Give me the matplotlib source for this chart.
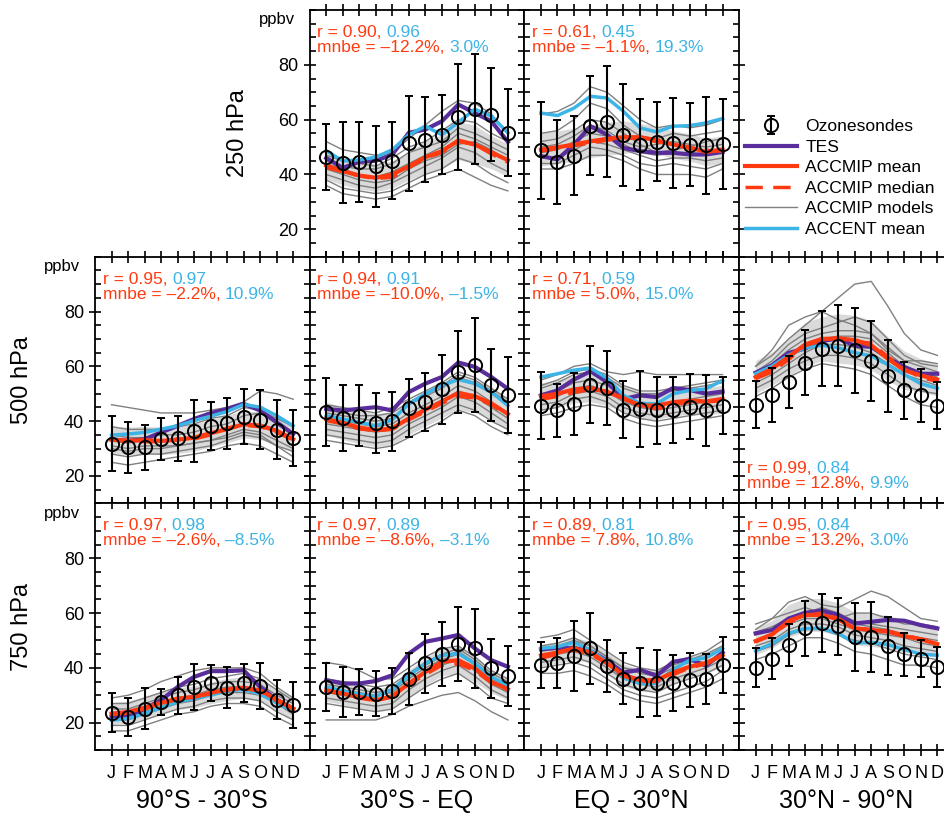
import matplotlib
matplotlib.use("Agg")
import matplotlib.pyplot as plt
import numpy as np
from matplotlib.offsetbox import TextArea, HPacker, VPacker, AnchoredOffsetbox
from matplotlib.lines import Line2D
from matplotlib.ticker import MultipleLocator

plt.rcParams['font.family'] = ['Liberation Sans', 'DejaVu Sans']

months = np.arange(1, 13)
month_labels = ['J', 'F', 'M', 'A', 'M', 'J', 'J', 'A', 'S', 'O', 'N', 'D']
col_titles = ['90°S - 30°S', '30°S - EQ', 'EQ - 30°N', '30°N - 90°N']
row_titles = ['250 hPa', '500 hPa', '750 hPa']

# (row, col) of each panel drawn
panels = [(0, 1), (0, 2), (1, 0), (1, 1), (1, 2), (1, 3), (2, 0), (2, 1), (2, 2), (2, 3)]

sondes = {
    (0, 1): [46.3, 44.3, 44.6, 43.0, 45.0, 51.3, 52.7, 54.5, 61.0, 63.9, 61.8, 55.2],
    (0, 2): [48.8, 44.6, 46.9, 57.8, 59.2, 54.5, 50.9, 51.9, 51.5, 50.9, 50.6, 51.2],
    (1, 0): [31.8, 30.4, 30.4, 33.4, 33.7, 36.5, 38.3, 39.3, 41.6, 40.5, 36.9, 34.0],
    (1, 1): [43.2, 41.2, 42.0, 39.2, 39.9, 44.8, 46.9, 51.6, 57.9, 60.4, 53.3, 49.6],
    (1, 2): [45.7, 43.9, 46.3, 53.3, 52.1, 44.2, 44.5, 43.9, 44.2, 45.3, 43.9, 45.7],
    (1, 3): [46.0, 49.6, 54.3, 61.4, 66.5, 67.5, 65.9, 62.0, 56.5, 51.2, 49.4, 45.7],
    (2, 0): [23.7, 22.1, 25.1, 27.6, 30.0, 33.0, 34.5, 32.8, 34.5, 33.5, 28.4, 26.3],
    (2, 1): [33.0, 31.2, 31.2, 30.6, 31.6, 35.9, 41.6, 45.0, 48.7, 47.1, 39.8, 37.1],
    (2, 2): [41.2, 41.8, 44.3, 47.1, 40.7, 36.1, 34.5, 34.5, 34.5, 35.5, 35.9, 41.0],
    (2, 3): [40.1, 43.4, 48.3, 54.4, 56.5, 55.2, 51.1, 51.3, 48.0, 44.9, 43.4, 40.4],
}
sondes_sd = {
    (0, 1): [12.1, 14.7, 14.5, 14.8, 14.1, 17.5, 15.5, 14.4, 19.2, 20.2, 17.0, 15.9],
    (0, 2): [17.7, 15.3, 14.5, 18.0, 20.3, 18.6, 16.7, 14.4, 16.5, 15.2, 17.8, 16.4],
    (1, 0): [10.1, 9.3, 8.1, 7.7, 8.3, 11.3, 8.7, 9.3, 10.0, 10.7, 10.7, 10.2],
    (1, 1): [12.4, 12.1, 11.2, 10.9, 10.9, 10.7, 10.6, 12.6, 14.9, 17.2, 13.2, 13.9],
    (1, 2): [12.1, 9.8, 11.3, 14.1, 13.5, 10.4, 13.8, 12.1, 12.0, 11.9, 12.9, 10.3],
    (1, 3): [8.6, 9.8, 9.6, 11.8, 13.6, 14.8, 15.5, 14.6, 13.2, 10.4, 9.7, 8.5],
    (2, 0): [7.0, 6.9, 7.5, 4.7, 6.8, 8.5, 6.6, 7.5, 7.0, 8.4, 7.0, 8.4],
    (2, 1): [8.8, 9.1, 8.5, 8.2, 8.5, 9.4, 10.9, 11.6, 13.4, 14.3, 10.8, 10.9],
    (2, 2): [8.4, 9.0, 12.8, 12.9, 9.5, 9.4, 12.6, 11.9, 10.2, 9.9, 9.1, 10.1],
    (2, 3): [7.0, 7.6, 7.7, 10.1, 10.6, 10.4, 12.4, 12.9, 10.7, 7.7, 6.7, 7.3],
}
tes = {
    (0, 1): [46.0, 42.4, 44.6, 45.0, 47.3, 55.2, 56.4, 59.4, 65.5, 62.4, 59.4, 51.9],
    (0, 2): [46.7, 45.5, 50.9, 57.6, 54.5, 49.7, 48.5, 47.9, 47.9, 47.3, 47.3, 48.2],
    (1, 0): [33.4, 32.8, 33.4, 35.9, 38.3, 40.8, 42.9, 44.5, 46.3, 43.9, 39.6, 35.3],
    (1, 1): [44.5, 43.9, 44.5, 45.1, 43.9, 50.6, 53.7, 56.1, 61.4, 59.8, 56.1, 51.8],
    (1, 2): [49.4, 51.2, 55.2, 58.2, 54.3, 48.1, 49.4, 48.8, 52.1, 51.4, 50.0, 50.8],
    (1, 3): [57.7, 60.4, 64.9, 66.5, 69.2, 70.2, 67.5, 67.1, 63.1, 59.8, 57.3, 57.3],
    (2, 0): [22.1, 22.1, 25.1, 28.2, 33.0, 36.7, 38.8, 38.8, 39.1, 33.0, 28.4, 25.1],
    (2, 1): [35.5, 34.3, 34.3, 35.2, 37.3, 45.2, 49.5, 50.7, 52.0, 47.1, 42.8, 40.4],
    (2, 2): [46.8, 47.3, 47.1, 46.3, 42.6, 38.3, 39.3, 37.1, 42.2, 43.2, 40.8, 45.6],
    (2, 3): [52.6, 53.8, 58.0, 60.1, 60.9, 59.3, 56.2, 56.8, 57.5, 57.2, 55.6, 54.4],
}
accmip_mean = {
    (0, 1): [43.3, 41.2, 39.6, 38.8, 40.0, 43.0, 46.3, 48.5, 52.4, 50.9, 48.1, 45.2],
    (0, 2): [49.1, 49.9, 50.9, 52.1, 53.0, 53.6, 53.6, 52.5, 50.9, 49.9, 48.2, 49.1],
    (1, 0): [33.2, 32.8, 33.1, 32.8, 33.2, 34.0, 35.6, 37.1, 38.9, 38.3, 36.5, 33.4],
    (1, 1): [40.8, 39.3, 37.7, 36.7, 37.4, 41.0, 44.2, 47.2, 50.3, 49.1, 46.5, 42.6],
    (1, 2): [49.1, 50.0, 51.6, 52.1, 50.6, 48.4, 45.7, 45.7, 46.9, 47.5, 47.2, 48.1],
    (1, 3): [56.1, 59.2, 63.5, 68.0, 70.0, 70.2, 69.6, 67.7, 62.8, 58.6, 56.7, 55.2],
    (2, 0): [23.3, 23.9, 25.5, 27.2, 28.8, 29.4, 30.9, 32.1, 32.8, 31.8, 28.4, 25.1],
    (2, 1): [31.8, 30.6, 29.4, 28.2, 29.6, 34.3, 38.5, 42.2, 42.8, 39.8, 34.9, 32.2],
    (2, 2): [44.5, 45.6, 47.1, 45.7, 41.7, 37.4, 35.5, 35.5, 38.3, 40.4, 41.8, 44.6],
    (2, 3): [49.8, 52.2, 57.1, 59.3, 59.3, 57.7, 54.4, 53.8, 53.2, 51.6, 50.4, 48.7],
}
accmip_median = {
    (0, 1): [42.5, 41.0, 39.5, 38.5, 39.0, 42.5, 46.0, 48.0, 52.0, 51.0, 47.5, 44.5],
    (0, 2): [48.5, 49.5, 50.5, 51.5, 52.5, 53.5, 53.0, 52.0, 51.0, 49.5, 48.8, 48.5],
    (1, 0): [33.0, 33.0, 32.5, 32.5, 33.5, 33.5, 35.0, 37.5, 38.5, 38.0, 36.0, 33.0],
    (1, 1): [40.2, 39.0, 37.2, 36.5, 37.0, 40.5, 43.5, 46.5, 49.0, 48.5, 46.0, 42.0],
    (1, 2): [48.0, 49.0, 50.5, 51.5, 51.0, 48.0, 46.0, 44.5, 46.0, 47.0, 47.0, 47.5],
    (1, 3): [55.5, 58.0, 62.5, 67.5, 69.5, 70.5, 69.0, 68.5, 63.5, 59.0, 56.0, 54.5],
    (2, 0): [23.0, 23.5, 25.0, 27.0, 28.5, 29.5, 30.5, 32.0, 32.5, 31.5, 28.0, 25.0],
    (2, 1): [31.5, 30.5, 29.0, 28.0, 29.5, 34.0, 37.5, 41.0, 41.5, 39.0, 34.5, 32.0],
    (2, 2): [43.5, 45.0, 46.5, 45.0, 41.5, 37.0, 35.0, 35.0, 37.5, 40.0, 41.5, 44.0],
    (2, 3): [49.5, 52.0, 56.5, 59.0, 60.0, 58.0, 54.5, 54.0, 53.5, 52.0, 50.5, 49.5],
}
accmip_sd = {
    (0, 1): [5, 5, 5, 5, 5, 5, 6, 6, 7, 7, 6, 6],
    (0, 2): [6, 6, 6, 6, 6, 6, 5, 5, 5, 5, 5, 5],
    (1, 0): [5, 5, 5, 5, 5, 5, 5, 5, 5, 5, 5, 5],
    (1, 1): [6, 6, 6, 6, 6, 6, 6, 6, 6, 6, 6, 6],
    (1, 2): [5, 5, 5, 5, 5, 5, 5, 5, 5, 5, 5, 5],
    (1, 3): [6, 6, 7, 8, 8, 9, 9, 9, 8, 7, 6, 6],
    (2, 0): [4, 4, 4, 4, 4, 4, 4, 4, 4, 4, 4, 4],
    (2, 1): [4, 4, 4, 4, 4, 5, 5, 5, 5, 5, 4, 4],
    (2, 2): [4, 4, 4, 4, 4, 4, 4, 4, 4, 4, 4, 4],
    (2, 3): [5, 5, 6, 6, 6, 6, 6, 6, 6, 6, 5, 5],
}
accent = {
    (0, 1): [48.7, 44.9, 45.3, 46.3, 49.0, 54.5, 57.6, 54.5, 59.0, 63.8, 61.3, 55.2],
    (0, 2): [62.4, 61.5, 64.2, 68.5, 67.9, 63.0, 57.0, 55.5, 57.6, 57.8, 58.8, 60.4],
    (1, 0): [34.9, 35.3, 35.9, 37.1, 38.3, 40.2, 41.8, 43.5, 46.1, 45.1, 42.0, 38.3],
    (1, 1): [42.0, 40.8, 39.6, 38.3, 40.5, 46.3, 50.0, 53.0, 55.2, 53.7, 50.6, 45.7],
    (1, 2): [56.1, 57.3, 58.6, 59.4, 55.7, 49.4, 46.5, 46.3, 50.0, 51.2, 51.8, 54.9],
    (1, 3): [57.3, 60.1, 64.1, 66.8, 67.7, 66.8, 65.0, 63.8, 60.6, 57.0, 53.7, 52.0],
    (2, 0): [20.9, 21.5, 23.3, 25.5, 27.6, 28.8, 30.0, 31.6, 32.1, 30.6, 27.2, 24.3],
    (2, 1): [33.0, 31.6, 30.4, 29.6, 32.1, 37.3, 41.6, 44.6, 45.2, 41.6, 36.7, 33.7],
    (2, 2): [47.1, 47.7, 49.3, 46.5, 42.2, 36.3, 34.3, 34.3, 39.4, 42.8, 43.7, 47.1],
    (2, 3): [46.2, 48.9, 52.6, 54.4, 54.4, 52.6, 49.1, 49.3, 48.5, 46.7, 45.0, 44.6],
}
# individual ACCMIP models (approximate, a subset)
models = {
    (0, 1): [[52, 49, 48, 47, 48, 53, 58, 63, 67, 66, 62, 55],
             [47, 45, 44, 43, 46, 50, 52, 56, 60, 59, 55, 52],
             [44, 42, 40, 39, 41, 44, 47, 50, 55, 53, 50, 47],
             [42, 40, 38, 37, 38, 42, 45, 47, 51, 52, 49, 45],
             [40, 38, 36, 35, 37, 40, 43, 46, 50, 48, 44, 41],
             [38, 35, 34, 33, 34, 37, 40, 42, 46, 44, 40, 37],
             [36, 33, 32, 31, 32, 35, 38, 40, 42, 39, 36, 34],
             [45, 43, 42, 42, 44, 48, 50, 52, 57, 55, 52, 49]],
    (0, 2): [[62, 63, 66, 72, 70, 65, 60, 57, 58, 57, 58, 60],
             [55, 56, 60, 66, 64, 58, 54, 53, 55, 54, 55, 56],
             [50, 51, 54, 58, 56, 52, 50, 51, 52, 51, 50, 51],
             [48, 49, 52, 55, 54, 51, 48, 47, 48, 48, 47, 48],
             [46, 46, 49, 52, 51, 49, 47, 45, 46, 46, 45, 46],
             [44, 44, 47, 50, 49, 47, 44, 43, 44, 43, 42, 44],
             [42, 42, 44, 47, 47, 45, 42, 40, 40, 40, 39, 42],
             [52, 53, 56, 60, 59, 55, 51, 48, 49, 50, 52, 53]],
    (1, 0): [[46, 45, 44, 43, 43, 43, 44, 45, 47, 51, 50, 48],
             [38, 37, 37, 37, 38, 39, 41, 42, 45, 44, 41, 38],
             [35, 34, 34, 35, 35, 36, 38, 39, 42, 43, 39, 35],
             [33, 32, 33, 33, 33, 34, 36, 37, 39, 39, 37, 33],
             [31, 30, 31, 31, 31, 32, 33, 35, 37, 36, 33, 30],
             [28, 27, 28, 28, 29, 30, 31, 33, 35, 34, 31, 27],
             [25, 24, 25, 26, 27, 28, 29, 31, 32, 31, 28, 25],
             [30, 29, 30, 30, 31, 32, 33, 34, 36, 35, 31, 29]],
    (1, 1): [[46, 45, 44, 43, 45, 48, 51, 54, 58, 56, 52, 48],
             [43, 42, 41, 40, 41, 46, 49, 52, 56, 54, 50, 46],
             [41, 40, 39, 38, 39, 43, 46, 49, 53, 51, 47, 43],
             [39, 38, 37, 36, 37, 41, 44, 47, 51, 49, 45, 41],
             [37, 36, 35, 34, 35, 39, 42, 45, 49, 47, 43, 39],
             [35, 34, 33, 32, 33, 37, 40, 43, 46, 44, 40, 37],
             [33, 32, 31, 30, 31, 34, 37, 40, 44, 42, 38, 35],
             [44, 43, 42, 42, 43, 47, 50, 53, 57, 55, 51, 47]],
    (1, 2): [[55, 57, 60, 61, 58, 57, 58, 57, 57, 57, 57, 57],
             [52, 54, 57, 58, 56, 52, 50, 50, 51, 52, 53, 54],
             [50, 51, 54, 55, 53, 49, 46, 46, 47, 48, 49, 50],
             [48, 49, 52, 53, 51, 47, 45, 44, 45, 46, 47, 48],
             [46, 47, 50, 51, 49, 45, 43, 42, 43, 44, 45, 46],
             [44, 45, 48, 49, 47, 43, 41, 40, 41, 42, 43, 44],
             [42, 43, 45, 46, 45, 41, 39, 38, 39, 40, 41, 42],
             [53, 55, 58, 59, 57, 53, 51, 51, 52, 53, 54, 55]],
    (1, 3): [[60, 64, 70, 75, 80, 85, 90, 91, 82, 72, 66, 64],
             [60, 66, 75, 78, 80, 77, 75, 72, 66, 62, 62, 61],
             [58, 62, 68, 72, 74, 76, 78, 76, 70, 64, 61, 60],
             [56, 59, 63, 67, 70, 71, 71, 70, 65, 60, 58, 56],
             [54, 57, 61, 65, 68, 68, 67, 65, 61, 57, 55, 53],
             [52, 55, 59, 62, 64, 64, 63, 61, 57, 53, 51, 50],
             [49, 52, 56, 59, 61, 60, 59, 57, 53, 49, 46, 45],
             [58, 61, 66, 70, 72, 73, 73, 72, 67, 62, 60, 58]],
    (2, 0): [[29, 30, 32, 35, 37, 39, 40, 40, 40, 38, 33, 29],
             [27, 27, 29, 31, 33, 34, 36, 37, 38, 36, 32, 28],
             [25, 25, 27, 29, 31, 32, 34, 35, 35, 34, 30, 27],
             [23, 23, 25, 27, 29, 30, 32, 33, 33, 32, 28, 25],
             [21, 21, 23, 25, 27, 28, 30, 31, 31, 30, 27, 23],
             [19, 19, 21, 23, 25, 26, 28, 29, 29, 28, 24, 21],
             [17, 17, 19, 21, 23, 24, 26, 27, 27, 26, 22, 19],
             [22, 22, 24, 26, 28, 30, 31, 32, 33, 31, 27, 24]],
    (2, 1): [[42, 41, 39, 36, 36, 40, 44, 47, 48, 44, 39, 36],
             [36, 35, 34, 33, 34, 38, 42, 45, 47, 43, 38, 35],
             [33, 32, 31, 30, 31, 36, 40, 43, 45, 41, 36, 33],
             [31, 30, 29, 28, 29, 34, 38, 41, 43, 39, 34, 31],
             [29, 28, 27, 26, 27, 32, 36, 39, 41, 37, 32, 29],
             [27, 26, 25, 24, 25, 29, 33, 36, 38, 34, 29, 27],
             [21, 21, 21, 21, 23, 26, 28, 30, 31, 28, 24, 21],
             [34, 33, 32, 31, 32, 37, 41, 44, 46, 42, 37, 34]],
    (2, 2): [[51, 52, 54, 50, 46, 42, 40, 39, 42, 44, 46, 50],
             [48, 49, 51, 48, 44, 40, 38, 37, 40, 42, 44, 47],
             [46, 47, 48, 46, 42, 38, 36, 35, 38, 40, 42, 45],
             [44, 45, 46, 44, 40, 36, 34, 33, 36, 38, 40, 43],
             [42, 43, 44, 42, 38, 34, 32, 31, 34, 36, 38, 41],
             [40, 41, 42, 40, 36, 32, 30, 29, 31, 33, 35, 39],
             [38, 38, 39, 37, 34, 30, 28, 27, 29, 31, 33, 36],
             [47, 48, 50, 48, 44, 40, 39, 38, 41, 43, 45, 48]],
    (2, 3): [[54, 58, 64, 66, 63, 62, 65, 68, 66, 62, 58, 57],
             [56, 58, 60, 62, 60, 58, 60, 60, 58, 56, 56, 55],
             [53, 55, 58, 60, 62, 60, 57, 56, 55, 54, 53, 52],
             [50, 52, 56, 58, 58, 56, 54, 53, 52, 51, 49, 48],
             [48, 50, 54, 56, 56, 55, 52, 51, 50, 48, 47, 46],
             [46, 48, 52, 54, 54, 52, 50, 49, 47, 45, 44, 43],
             [43, 45, 48, 51, 51, 49, 46, 45, 43, 41, 41, 40],
             [52, 54, 57, 59, 59, 58, 56, 55, 54, 52, 51, 50]],
}
# (ACCMIP, ACCENT) statistics
r_vals = {
    (0, 1): ('0.90', '0.96'), (0, 2): ('0.61', '0.45'),
    (1, 0): ('0.95', '0.97'), (1, 1): ('0.94', '0.91'),
    (1, 2): ('0.71', '0.59'), (1, 3): ('0.99', '0.84'),
    (2, 0): ('0.97', '0.98'), (2, 1): ('0.97', '0.89'),
    (2, 2): ('0.89', '0.81'), (2, 3): ('0.95', '0.84'),
}
mnbe_vals = {
    (0, 1): ('–12.2%', '3.0%'), (0, 2): ('–1.1%', '19.3%'),
    (1, 0): ('–2.2%', '10.9%'), (1, 1): ('–10.0%', '–1.5%'),
    (1, 2): ('5.0%', '15.0%'), (1, 3): ('12.8%', '9.9%'),
    (2, 0): ('–2.6%', '–8.5%'), (2, 1): ('–8.6%', '–3.1%'),
    (2, 2): ('7.8%', '10.8%'), (2, 3): ('13.2%', '3.0%'),
}

C_TES = '#5a2d9c'
C_RED = '#ff3a10'
C_BLUE = '#3cb4e6'
C_GRAY = '#808080'

W, H = 945, 814
fig = plt.figure(figsize=(W / 100, H / 100), dpi=100)

col_x = [95 + i * 214.7 for i in range(4)]
row_y = [10 + i * 246.7 for i in range(3)]
pw, ph = 214.7, 246.7


def stats_box(ax, key):
    fs = 12.5
    ra, rb = r_vals[key]
    ma, mb = mnbe_vals[key]
    line1 = HPacker(children=[TextArea('r = ' + ra + ', ', textprops=dict(color=C_RED, fontsize=fs)),
                              TextArea(rb, textprops=dict(color=C_BLUE, fontsize=fs))],
                    align='baseline', pad=0, sep=0)
    line2 = HPacker(children=[TextArea('mnbe = ' + ma + ', ', textprops=dict(color=C_RED, fontsize=fs)),
                              TextArea(mb, textprops=dict(color=C_BLUE, fontsize=fs))],
                    align='baseline', pad=0, sep=0)
    box = VPacker(children=[line1, line2], align='left', pad=0, sep=0)
    if key == (1, 3):
        ab = AnchoredOffsetbox(loc='lower left', child=box, pad=0, borderpad=0, frameon=False,
                               bbox_to_anchor=(0.035, 0.05), bbox_transform=ax.transAxes)
    else:
        ab = AnchoredOffsetbox(loc='upper left', child=box, pad=0, borderpad=0, frameon=False,
                               bbox_to_anchor=(0.035, 0.94), bbox_transform=ax.transAxes)
    ax.add_artist(ab)


sonde_handle = None
for key in panels:
    r, c = key
    rect = [col_x[c] / W, 1 - (row_y[r] + ph) / H, pw / W, ph / H]
    ax = fig.add_axes(rect)
    mean = np.array(accmip_mean[key])
    sd = np.array(accmip_sd[key])
    ax.fill_between(months, mean - sd, mean + sd, color='#dadada', lw=0, zorder=1)
    for m in models[key]:
        ax.plot(months, m, color=C_GRAY, lw=1.0, zorder=2)
    ax.plot(months, tes[key], color=C_TES, lw=3, zorder=4)
    ax.plot(months, accent[key], color=C_BLUE, lw=2.5, zorder=4)
    ax.plot(months, accmip_median[key], color=C_RED, lw=2.5, ls=(0, (5, 3)), zorder=5)
    ax.plot(months, mean, color=C_RED, lw=3, zorder=5)
    eb = ax.errorbar(months, sondes[key], yerr=sondes_sd[key], fmt='o', ms=9.5, mfc='none',
                     mec='black', mew=1.4, ecolor='black', elinewidth=1.5, capsize=3,
                     capthick=1.5, zorder=6)
    sonde_handle = eb

    ax.set_xlim(0, 13)
    ax.set_ylim(10, 100)
    ax.set_xticks(months)
    ax.yaxis.set_major_locator(MultipleLocator(20))
    ax.yaxis.set_minor_locator(MultipleLocator(5))
    ax.tick_params(which='major', direction='inout', length=9, width=1.2,
                   top=True, right=True, labelsize=13)
    ax.tick_params(which='minor', direction='in', length=4, width=1.2, left=True, right=True)
    ax.set_yticks([20, 40, 60, 80])
    for s in ax.spines.values():
        s.set_linewidth(1.3)

    first = (r == 0 and c == 1) or (r > 0 and c == 0)
    if first:
        ax.set_yticklabels(['20', '40', '60', '80'])
        ax.text(-0.07, 0.99, 'ppbv', transform=ax.transAxes, ha='right', va='top', fontsize=12)
    else:
        ax.set_yticklabels([])
    if r == 2:
        ax.set_xticklabels(month_labels, fontsize=13, family=['Liberation Sans Narrow', 'Liberation Sans'])
        ax.tick_params(axis='x', pad=6)
    else:
        ax.set_xticklabels([])
    stats_box(ax, key)

# row labels
fig.text(238 / W, 1 - 133 / H, row_titles[0], rotation=90, ha='center', va='center', fontsize=17)
fig.text(22 / W, 1 - 380 / H, row_titles[1], rotation=90, ha='center', va='center', fontsize=17)
fig.text(22 / W, 1 - 627 / H, row_titles[2], rotation=90, ha='center', va='center', fontsize=17)
# column labels
for c in range(4):
    fig.text((col_x[c] + pw / 2) / W, 1 - 801 / H, col_titles[c], ha='center', va='center', fontsize=18)

handles = [sonde_handle,
           Line2D([], [], color=C_TES, lw=3),
           Line2D([], [], color=C_RED, lw=3),
           Line2D([], [], color=C_RED, lw=2.5, ls=(0, (5, 3))),
           Line2D([], [], color=C_GRAY, lw=1.0),
           Line2D([], [], color=C_BLUE, lw=2.5)]
labels = ['Ozonesondes', 'TES', 'ACCMIP mean', 'ACCMIP median', 'ACCMIP models', 'ACCENT mean']
fig.legend(handles, labels, loc='upper left', bbox_to_anchor=(745 / W, 1 - 119 / H),
           frameon=False, fontsize=12.6, handlelength=3.0, handletextpad=0.45,
           labelspacing=0.3, borderpad=0, borderaxespad=0)

fig.savefig('out.png', dpi=100)
